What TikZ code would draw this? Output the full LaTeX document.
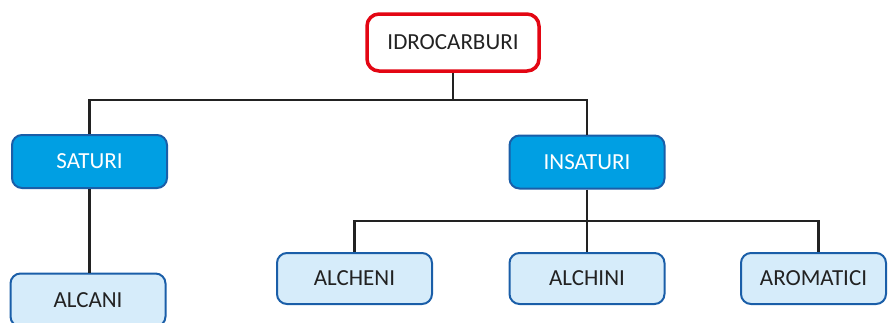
\documentclass[tikz,border=0pt]{standalone}
\usepackage{fontspec}
\setmainfont{Carlito}
\usepackage{tikz}

\definecolor{rossoBordo}{HTML}{E30613}
\definecolor{bluPieno}{HTML}{009FE3}
\definecolor{bluBordo}{HTML}{1A5EA8}
\definecolor{bluChiaro}{HTML}{D6ECFA}
\definecolor{lineaScura}{HTML}{222222}

\begin{document}
\begin{tikzpicture}[x=1pt, y=-1pt,
    radice/.style={rectangle, rounded corners=12pt, draw=rossoBordo, line width=3.5pt, fill=white,
        minimum width=172pt, minimum height=57pt, text=lineaScura, font=\fontsize{23}{27}\selectfont},
    classe/.style={rectangle, rounded corners=10pt, draw=bluBordo, line width=2pt, fill=bluPieno,
        minimum width=155pt, minimum height=53pt, text=white, font=\fontsize{23}{27}\selectfont},
    famiglia/.style={rectangle, rounded corners=10pt, draw=bluBordo, line width=2pt, fill=bluChiaro,
        minimum width=155pt, minimum height=51pt, text=lineaScura, font=\fontsize{23}{27}\selectfont},
    ramo/.style={draw=lineaScura, line width=2.4pt}]
            \useasboundingbox (0,0) rectangle (889,322);

            % Nodes
            \node[radice] (idro) at (453,42.5) {IDROCARBURI};
            \node[classe] (saturi) at (89.5,161.5) {SATURI};
            \node[classe] (insaturi) at (587,162) {INSATURI};
            \node[famiglia, minimum height=53pt] (alcani) at (88,300) {ALCANI};
            \node[famiglia] (alcheni) at (354.5,278.5) {ALCHENI};
            \node[famiglia] (alchini) at (587,278.5) {ALCHINI};
            \node[famiglia, minimum width=145pt] (aromatici) at (813.5,278.5) {AROMATICI};

            % Junctions
            \coordinate (snodoA) at (453,100);
            \coordinate (snodoB) at (587,221);

            % Edges
            \draw[ramo] (idro.south) -- (snodoA);
            \draw[ramo] (snodoA) -| (saturi.north);
            \draw[ramo] (snodoA) -| (insaturi.north);
            \draw[ramo] (saturi.south) -- (saturi.south |- alcani.north);
            \draw[ramo] (insaturi.south) -- (snodoB);
            \draw[ramo] (snodoB) -| (alcheni.north);
            \draw[ramo] (snodoB) -- (alchini.north);
            \draw[ramo] (snodoB) -| ([xshift=5pt]aromatici.north);
        \end{tikzpicture}
\end{document}
